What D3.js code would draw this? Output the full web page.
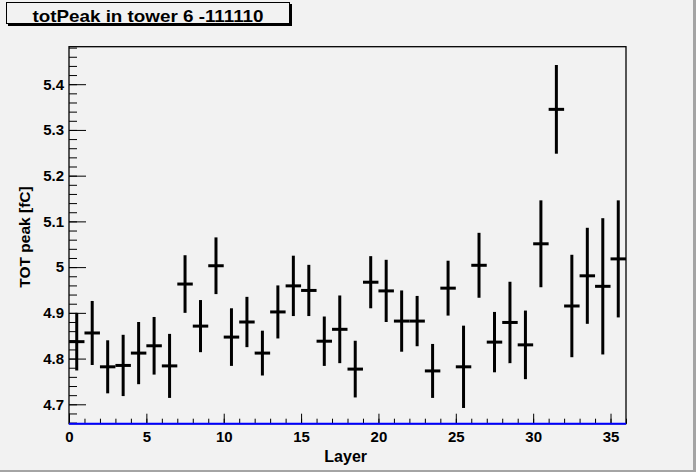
<!DOCTYPE html>
<head>
<meta charset="utf-8">
<style>
body { margin: 0; background: #f2f2f2; }
text { font-family: "Liberation Sans", Arial, sans-serif; font-weight: bold; fill: #000; }
.axis path { display: none; }
.axis line { stroke: #000; stroke-width: 1; }
</style>
</head>
<body>
<div class="viz"></div>

<script src="https://d3js.org/d3.v7.min.js"></script>

<script>
// bin centres (layer index + 0.5)
const layers = d3.range(36).map(function(i) { return i + 0.5; });
const peaks = [4.837, 4.856, 4.782, 4.785, 4.812, 4.828, 4.784, 4.963, 4.871, 5.003,
               4.847, 4.880, 4.812, 4.902, 4.959, 4.949, 4.838, 4.864, 4.777, 4.967,
               4.948, 4.882, 4.882, 4.773, 4.954, 4.782, 5.004, 4.836, 4.879, 4.830,
               5.051, 5.345, 4.915, 4.981, 4.958, 5.018];
const peakErrors = [0.063, 0.070, 0.058, 0.067, 0.068, 0.063, 0.070, 0.063, 0.057, 0.062,
                    0.063, 0.055, 0.049, 0.058, 0.066, 0.056, 0.054, 0.074, 0.062, 0.057,
                    0.068, 0.067, 0.055, 0.059, 0.060, 0.090, 0.071, 0.066, 0.089, 0.075,
                    0.095, 0.097, 0.112, 0.105, 0.149, 0.128];
const xTicks = [0, 5, 10, 15, 20, 25, 30, 35];
const yTicks = [4.7, 4.8, 4.9, 5.0, 5.1, 5.2, 5.3, 5.4];

const W = 696, H = 472;
const margin = { top: 46.7, right: 70, bottom: 48.3, left: 69 };
const width = W - margin.left - margin.right;
const height = H - margin.top - margin.bottom;

const svg = d3.select(".viz")
              .append("svg")
                  .attr("width", W)
                  .attr("height", H);

svg.append("rect")
   .attr("width", W).attr("height", H)
   .attr("fill", "#f2f2f2");
// canvas border (right / bottom)
svg.append("rect").attr("x", 693).attr("y", 0).attr("width", 3).attr("height", H).attr("fill", "#a4a4a4");
svg.append("rect").attr("x", 0).attr("y", 470).attr("width", W).attr("height", 2).attr("fill", "#a4a4a4");

const g = svg.append("g")
             .attr("transform", "translate(" + margin.left + "," + margin.top + ")");

const xScale = d3.scaleLinear().domain([0, 36]).range([0, width]);
const yScale = d3.scaleLinear().domain([4.6576, 5.482]).range([height, 0]);

// frame
g.append("rect")
 .attr("x", 0).attr("y", 0)
 .attr("width", width).attr("height", height)
 .attr("fill", "none")
 .attr("stroke", "#000")
 .attr("stroke-width", 1.3);

// x axis: minor then major ticks
g.append("g")
 .attr("class", "axis")
 .attr("transform", "translate(0," + height + ")")
 .call(d3.axisBottom(xScale).tickValues(d3.range(0, 37)).tickSize(-5).tickFormat(""));
const xAx = g.append("g")
             .attr("class", "axis")
             .attr("transform", "translate(0," + height + ")")
             .call(d3.axisBottom(xScale).tickValues(xTicks).tickSize(-10).tickPadding(7.5));
xAx.selectAll("text").style("font-size", "15px");

// y axis
const yMinor = d3.range(0, 42).map(function(i) { return 4.66 + i * 0.02; })
                 .filter(function(v) { return v < 5.482; });
g.append("g")
 .attr("class", "axis")
 .call(d3.axisLeft(yScale).tickValues(yMinor).tickSize(-8).tickFormat(""));
const yAx = g.append("g")
             .attr("class", "axis")
             .call(d3.axisLeft(yScale).tickValues(yTicks).tickSize(-17).tickPadding(5)
                     .tickFormat(function(d) { return String(+d.toFixed(1)); }));
yAx.selectAll("text").style("font-size", "15px");

// blue baseline
g.append("line")
 .attr("x1", 0).attr("x2", width)
 .attr("y1", height).attr("y2", height)
 .attr("stroke", "#0000ff")
 .attr("stroke-width", 2);

// error bars
const pts = g.selectAll(".pt")
             .data(layers.map(function(x, i) { return { x: x, y: peaks[i], e: peakErrors[i] }; }))
             .enter()
             .append("g")
                 .attr("class", "pt");
pts.append("line")
   .attr("x1", function(d) { return xScale(d.x); })
   .attr("x2", function(d) { return xScale(d.x); })
   .attr("y1", function(d) { return yScale(d.y - d.e); })
   .attr("y2", function(d) { return yScale(d.y + d.e); })
   .attr("stroke", "#000").attr("stroke-width", 3);
pts.append("line")
   .attr("x1", function(d) { return xScale(d.x - 0.5); })
   .attr("x2", function(d) { return xScale(d.x + 0.5); })
   .attr("y1", function(d) { return yScale(d.y); })
   .attr("y2", function(d) { return yScale(d.y); })
   .attr("stroke", "#000").attr("stroke-width", 3);

// axis titles
svg.append("text")
   .attr("x", 345.7).attr("y", 461.7)
   .attr("text-anchor", "middle")
   .style("font-size", "16px")
   .text("Layer");
svg.append("text")
   .attr("transform", "translate(30,237) rotate(-90)")
   .attr("text-anchor", "middle")
   .style("font-size", "15.5px")
   .text("TOT peak [fC]");

// title box
svg.append("rect")
   .attr("x", 8).attr("y", 4).attr("width", 284).attr("height", 22)
   .attr("fill", "#000");
svg.append("rect")
   .attr("x", 6.5).attr("y", 2.5).attr("width", 283).attr("height", 21)
   .attr("fill", "#f2f2f2")
   .attr("stroke", "#000").attr("stroke-width", 1);
svg.append("text")
   .attr("x", 148).attr("y", 21.5)
   .attr("text-anchor", "middle")
   .attr("textLength", 231)
   .attr("lengthAdjust", "spacingAndGlyphs")
   .style("font-size", "16.5px")
   .text("totPeak in tower 6 -111110");
</script>
</body>
